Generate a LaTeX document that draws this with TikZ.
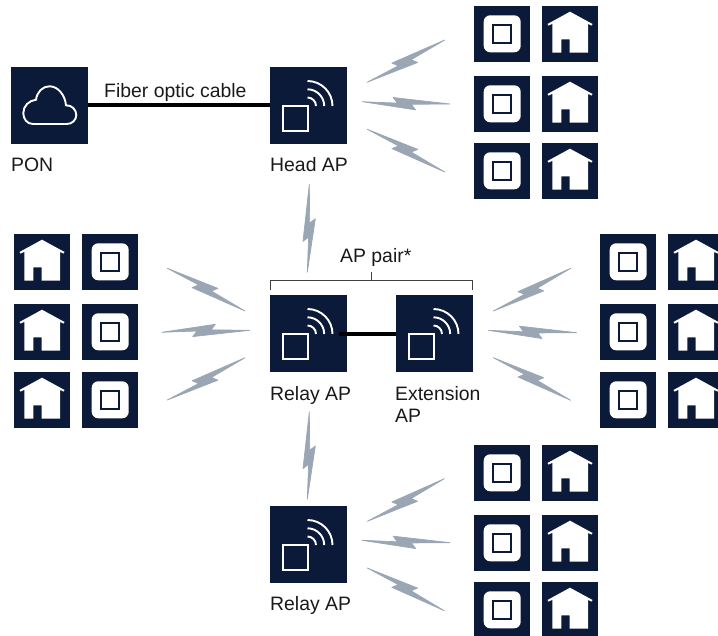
\documentclass[tikz,border=0pt]{standalone}
\usepackage{fontspec}
\setmainfont{Liberation Sans}
\usetikzlibrary{calc}
\definecolor{tilecol}{HTML}{0B1A38}
\definecolor{zapcol}{HTML}{9BA6B4}
\definecolor{bracketcol}{HTML}{404040}
\tikzset{
	aptile/.style={fill=tilecol, inner sep=0, outer sep=0, minimum size=77, anchor=north west},
	cpetile/.style={fill=tilecol, inner sep=0, outer sep=0, minimum size=56, anchor=north west},
	lbl/.style={inner sep=0, anchor=base west, text=black!90, font=\fontsize{19.4}{21.5}\selectfont},
	fiber/.style={line width=4, black},
	glyph/.style={white, line width=1.9},
	zapfill/.style={fill=zapcol, draw=zapcol, line width=0.7, line join=round}
}
% wireless bolt: start, end, side
\newcommand{\zap}[3]{
	\coordinate (za) at (#1);
	\coordinate (zb) at (#2);
	\filldraw[zapfill] (za) -- ($(za)!.40!(zb)!.5pt!-#3:(zb)$) -- ($(za)!.35!(zb)!5pt!#3:(zb)$) -- (zb)
		-- ($(za)!.56!(zb)!1.3pt!-#3:(zb)$) -- ($(za)!.61!(zb)!6.8pt!-#3:(zb)$) -- cycle;
}
% access point glyph on a big tile
\newcommand{\apglyph}[1]{
	\begin{scope}[shift={(#1.north west)}]
		\draw[glyph] (12.7,38.7) rectangle (38,64);
		\draw[glyph] (37.5,14) arc[start angle=90, end angle=0, radius=25pt];
		\draw[glyph] (37.5,22.3) arc[start angle=90, end angle=0, radius=16.7pt];
		\draw[glyph] (37.5,30.5) arc[start angle=90, end angle=0, radius=8.5pt];
	\end{scope}
}
% device glyph on a small tile
\newcommand{\devglyph}[1]{
	\begin{scope}[shift={(#1.north west)}]
		\fill[white, rounded corners=6.5] (9.7,9.3) rectangle (46.7,46.3);
		\draw[tilecol, line width=2] (19.3,19) rectangle (36.9,36.6);
	\end{scope}
}
% house glyph on a small tile
\newcommand{\houseglyph}[1]{
	\begin{scope}[shift={(#1.north west)}]
		\fill[white] (28,5.7) -- (50.5,18) -- (49.5,19.6) -- (46,17.8) -- (46,46.7) -- (27.7,46.7) -- (27.7,33.3)
			-- (19.3,33.3) -- (19.3,46.7) -- (10.3,46.7) -- (10.3,17.8) -- (6.5,19.6) -- (5.5,18) -- cycle;
	\end{scope}
}
\begin{document}
\begin{tikzpicture}[x=1pt, y=-1pt]
	\useasboundingbox (0,0) rectangle (718,636);
	\clip (0,0) rectangle (718,636);

	\node[aptile] (pon) at (11,67) {};
	\node[aptile] (head) at (270,67) {};
	\node[aptile] (relay) at (270,295) {};
	\node[aptile] (extension) at (396,295) {};
	\node[aptile] (lastrelay) at (270,506) {};

	\begin{scope}[shift={(pon.north west)}]
		\draw[glyph] (22,57) .. controls (16,57) and (12.3,52) .. (12.3,46) .. controls (12.3,39) and (18,33.5) .. (25,32.7)
			.. controls (26,25) and (31.5,19.3) .. (38.5,19.3) .. controls (47,19.3) and (54,28) .. (55,38.3)
			.. controls (61,38) and (65.3,43) .. (65.3,48) .. controls (65.3,53) and (61,57) .. (56,57) -- cycle;
	\end{scope}
	\apglyph{head}
	\apglyph{relay}
	\apglyph{extension}
	\apglyph{lastrelay}

	\coordinate (relaytap) at (339,334);
	\coordinate (exttap) at (extension.west |- relaytap);
	\draw[fiber] (pon.east) -- (head.west);
	\draw[fiber] (relaytap) -- (exttap);

	\node[lbl] (ponlabel) at (11,172) {PON};
	\node[lbl] (fiberlabel) at (104,97.7) {Fiber optic cable};
	\node[lbl] (headlabel) at (270,172) {Head AP};
	\node[lbl] (pairlabel) at (340,262.7) {AP pair*};
	\node[lbl] (relaylabel) at (270,400.7) {Relay AP};
	\node[lbl] (extlabel) at (395,401) {Extension};
	\node[lbl] (extlabelb) at (395,422.4) {AP};
	\node[lbl] (lastlabel) at (270,610.7) {Relay AP};

	\draw[bracketcol, line width=0.9] (270.4,290) -- (270.4,280.7) -- (472.4,280.7) -- (472.4,290);
	\draw[bracketcol, line width=0.9] (371.7,280.7) -- (371.7,272.3);

	% top right, bottom right
	\foreach \r/\y in {a/6, b/76, c/143, d/445, e/515, f/582} {
		\node[cpetile] (dev\r) at (474,\y) {};
		\node[cpetile] (home\r) at (542,\y) {};
		\devglyph{dev\r}
		\houseglyph{home\r}
	}
	% left
	\foreach \r/\y in {g/234, h/304, i/372} {
		\node[cpetile] (home\r) at (14,\y) {};
		\node[cpetile] (dev\r) at (82,\y) {};
		\houseglyph{home\r}
		\devglyph{dev\r}
	}
	% right
	\foreach \r/\y in {j/234, k/304, l/372} {
		\node[cpetile] (dev\r) at (600,\y) {};
		\node[cpetile] (home\r) at (668,\y) {};
		\devglyph{dev\r}
		\houseglyph{home\r}
	}

	\foreach \ax/\ay/\bx/\by/\sd in {
		367/82.3/444.7/40/90, 362.3/101.7/450/104/90, 367.3/129.3/444.7/172/-90,
		367.3/521.3/444.3/478.7/90, 362/540.3/450.3/542.7/90, 367.3/568/444.3/610.7/-90,
		167.3/268.3/245/311/-90, 161.7/332.3/250/330.3/-90, 167.3/400/245/357.7/90,
		493.3/311/570.7/268.3/90, 488.3/330.3/576.7/332.7/90, 493.3/357.7/570.7/400.3/-90,
		307.3/272.3/309.3/184.3/90, 307.3/499.3/309.3/411.7/90} {
		\zap{\ax,\ay}{\bx,\by}{\sd}
	}
\end{tikzpicture}
\end{document}
